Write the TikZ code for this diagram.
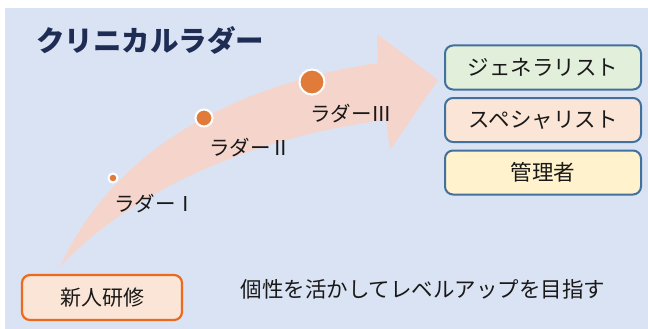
\documentclass[tikz,border=0pt]{standalone}
\usepackage{fontspec}
\newfontfamily\jp{Noto Sans CJK JP}
\definecolor{bgblue}{HTML}{DAE3F3}
\definecolor{arrowpeach}{HTML}{F5D5CB}
\definecolor{dotorange}{HTML}{E07B39}
\definecolor{titlenavy}{HTML}{1F2D55}
\definecolor{boxedge}{HTML}{41719C}
\definecolor{orangeedge}{HTML}{EB6A1E}
\definecolor{fillgreen}{HTML}{E2EFDA}
\definecolor{fillpeach}{HTML}{FBE5D6}
\definecolor{fillyellow}{HTML}{FFF2CC}
\begin{document}
\begin{tikzpicture}[x=1pt,y=-1pt,
  rolebox/.style={draw=boxedge, line width=2pt, rounded corners=8pt, minimum width=196pt, minimum height=44pt, inner sep=0pt, font=\jp\fontsize{21.5}{24}\selectfont, text=black!90},
  ladderdot/.style={circle, fill=dotorange, draw=white, line width=2pt, inner sep=0pt},
  ladderlabel/.style={font=\jp\fontsize{20.5}{23}\selectfont, text=black!90, inner sep=0pt}]
\useasboundingbox (0,0) rectangle (648,329);
\fill[white] (0,0) rectangle (648,329);
\fill[bgblue] (5,8) rectangle (648,329);
% curved arrow
\fill[arrowpeach] (60,267) .. controls (112,152) and (230,85) .. (378,63)
  -- (377,34) -- (438,80) -- (390,150) -- (386,120)
  .. controls (260,135) and (130,190) .. (60,267) -- cycle;
% title
\node[font=\jp\bfseries\fontsize{28.5}{32}\selectfont, text=titlenavy, inner sep=0pt] (title) at (150,40) {クリニカルラダー};
% dots
\node[ladderdot, minimum size=9pt] (d1) at (113,178) {};
\node[ladderdot, minimum size=17pt] (d2) at (204,118) {};
\node[ladderdot, minimum size=25pt] (d3) at (312,82) {};
% labels
\node[ladderlabel] (l1) at (155,204) {ラダーⅠ};
\node[ladderlabel] (l2) at (250,148) {ラダーⅡ};
\node[ladderlabel] (l3) at (351,114) {ラダーⅢ};
% right boxes
\node[rolebox, fill=fillgreen] (gen) at (543,67.5) {ジェネラリスト};
\node[rolebox, fill=fillpeach] (spe) at (543,120) {スペシャリスト};
\node[rolebox, fill=fillyellow] (man) at (543,172.5) {管理者};
% bottom
\node[draw=orangeedge, line width=2.2pt, fill=fillpeach, rounded corners=8pt, minimum width=160pt, minimum height=45pt, inner sep=0pt, font=\jp\fontsize{21}{24}\selectfont, text=black!90] (new) at (102,297.5) {新人研修};
\node[font=\jp\fontsize{21.5}{24}\selectfont, text=black!90, inner sep=0pt] (goal) at (423,289) {個性を活かしてレベルアップを目指す};
\end{tikzpicture}
\end{document}
